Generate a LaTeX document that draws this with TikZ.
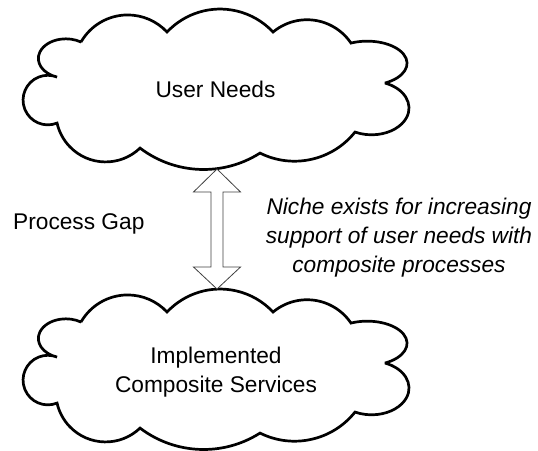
\documentclass[tikz,border=0pt]{standalone}
\usepackage{fontspec}
\setmainfont{Liberation Sans}
\usetikzlibrary{calc}

\tikzset{
  cloudline/.style={line width=2.7pt, line join=miter, miter limit=3},
  gapline/.style={draw=black!75, line width=0.8pt, fill=white, line join=miter},
  label/.style={inner sep=0pt, font=\fontsize{22.7}{29}\selectfont},
  % cloud outline, one arc per bulge, clockwise from the upper left cusp
  bubble/.pic={
    \draw[cloudline] (81,42)
      arc[start angle=-150.2, end angle=-43.0, radius=53.8]
      arc[start angle=-136.9, end angle=-43.1, radius=72.6]
      arc[start angle=-129.8, end angle=-34.1, radius=53.1]
      arc[start angle=-114.07, end angle=63.5, x radius=39.82, y radius=22.12]
      arc[start angle=-68.93, end angle=116.17, x radius=37.47, y radius=26.77]
      arc[start angle=38.56, end angle=116.5, radius=77.34]
      arc[start angle=57.54, end angle=127.23, radius=105.09]
      arc[start angle=46.19, end angle=167.33, radius=49.76]
      arc[start angle=68.15, end angle=291.85, radius=24.78]
      arc[start angle=108.68, end angle=303.51, x radius=27.51, y radius=19.65]
      -- cycle;
  }
}

\begin{document}
\begin{tikzpicture}[x=1pt, y=-1pt]
    \useasboundingbox (0,0) rectangle (538,450);

    % The two clouds
    \pic (needscloud) at (0,0) {bubble};
    \pic (servicescloud) at (0,280) {bubble};
    \node[label, anchor=base] (needs) at (215.5,97) {User Needs};
    \node[label, align=center] (services) at (216,372) {Implemented\\Composite Services};

    % Hollow double arrow between the clouds
    \coordinate (gaptop) at (217,169);
    \coordinate (gapbot) at (217,289);
    \draw[gapline] (gaptop) -- ++(23.5,23) -- ++(-17.5,0) -- ($(gapbot)+(6,-22)$)
      -- ++(17.5,0) -- (gapbot) -- ++(-23.5,-22) -- ++(17.5,0)
      -- ($(gaptop)+(-6,23)$) -- ++(-17.5,0) -- cycle;

    % Side notes
    \node[label, anchor=base west] (gap) at (13,229) {Process Gap};
    \node[label, align=center, font=\fontsize{22.7}{29}\selectfont\itshape] (niche) at (399,237.7)
      {Niche exists for increasing\\support of user needs with\\composite processes};
  \end{tikzpicture}
\end{document}
